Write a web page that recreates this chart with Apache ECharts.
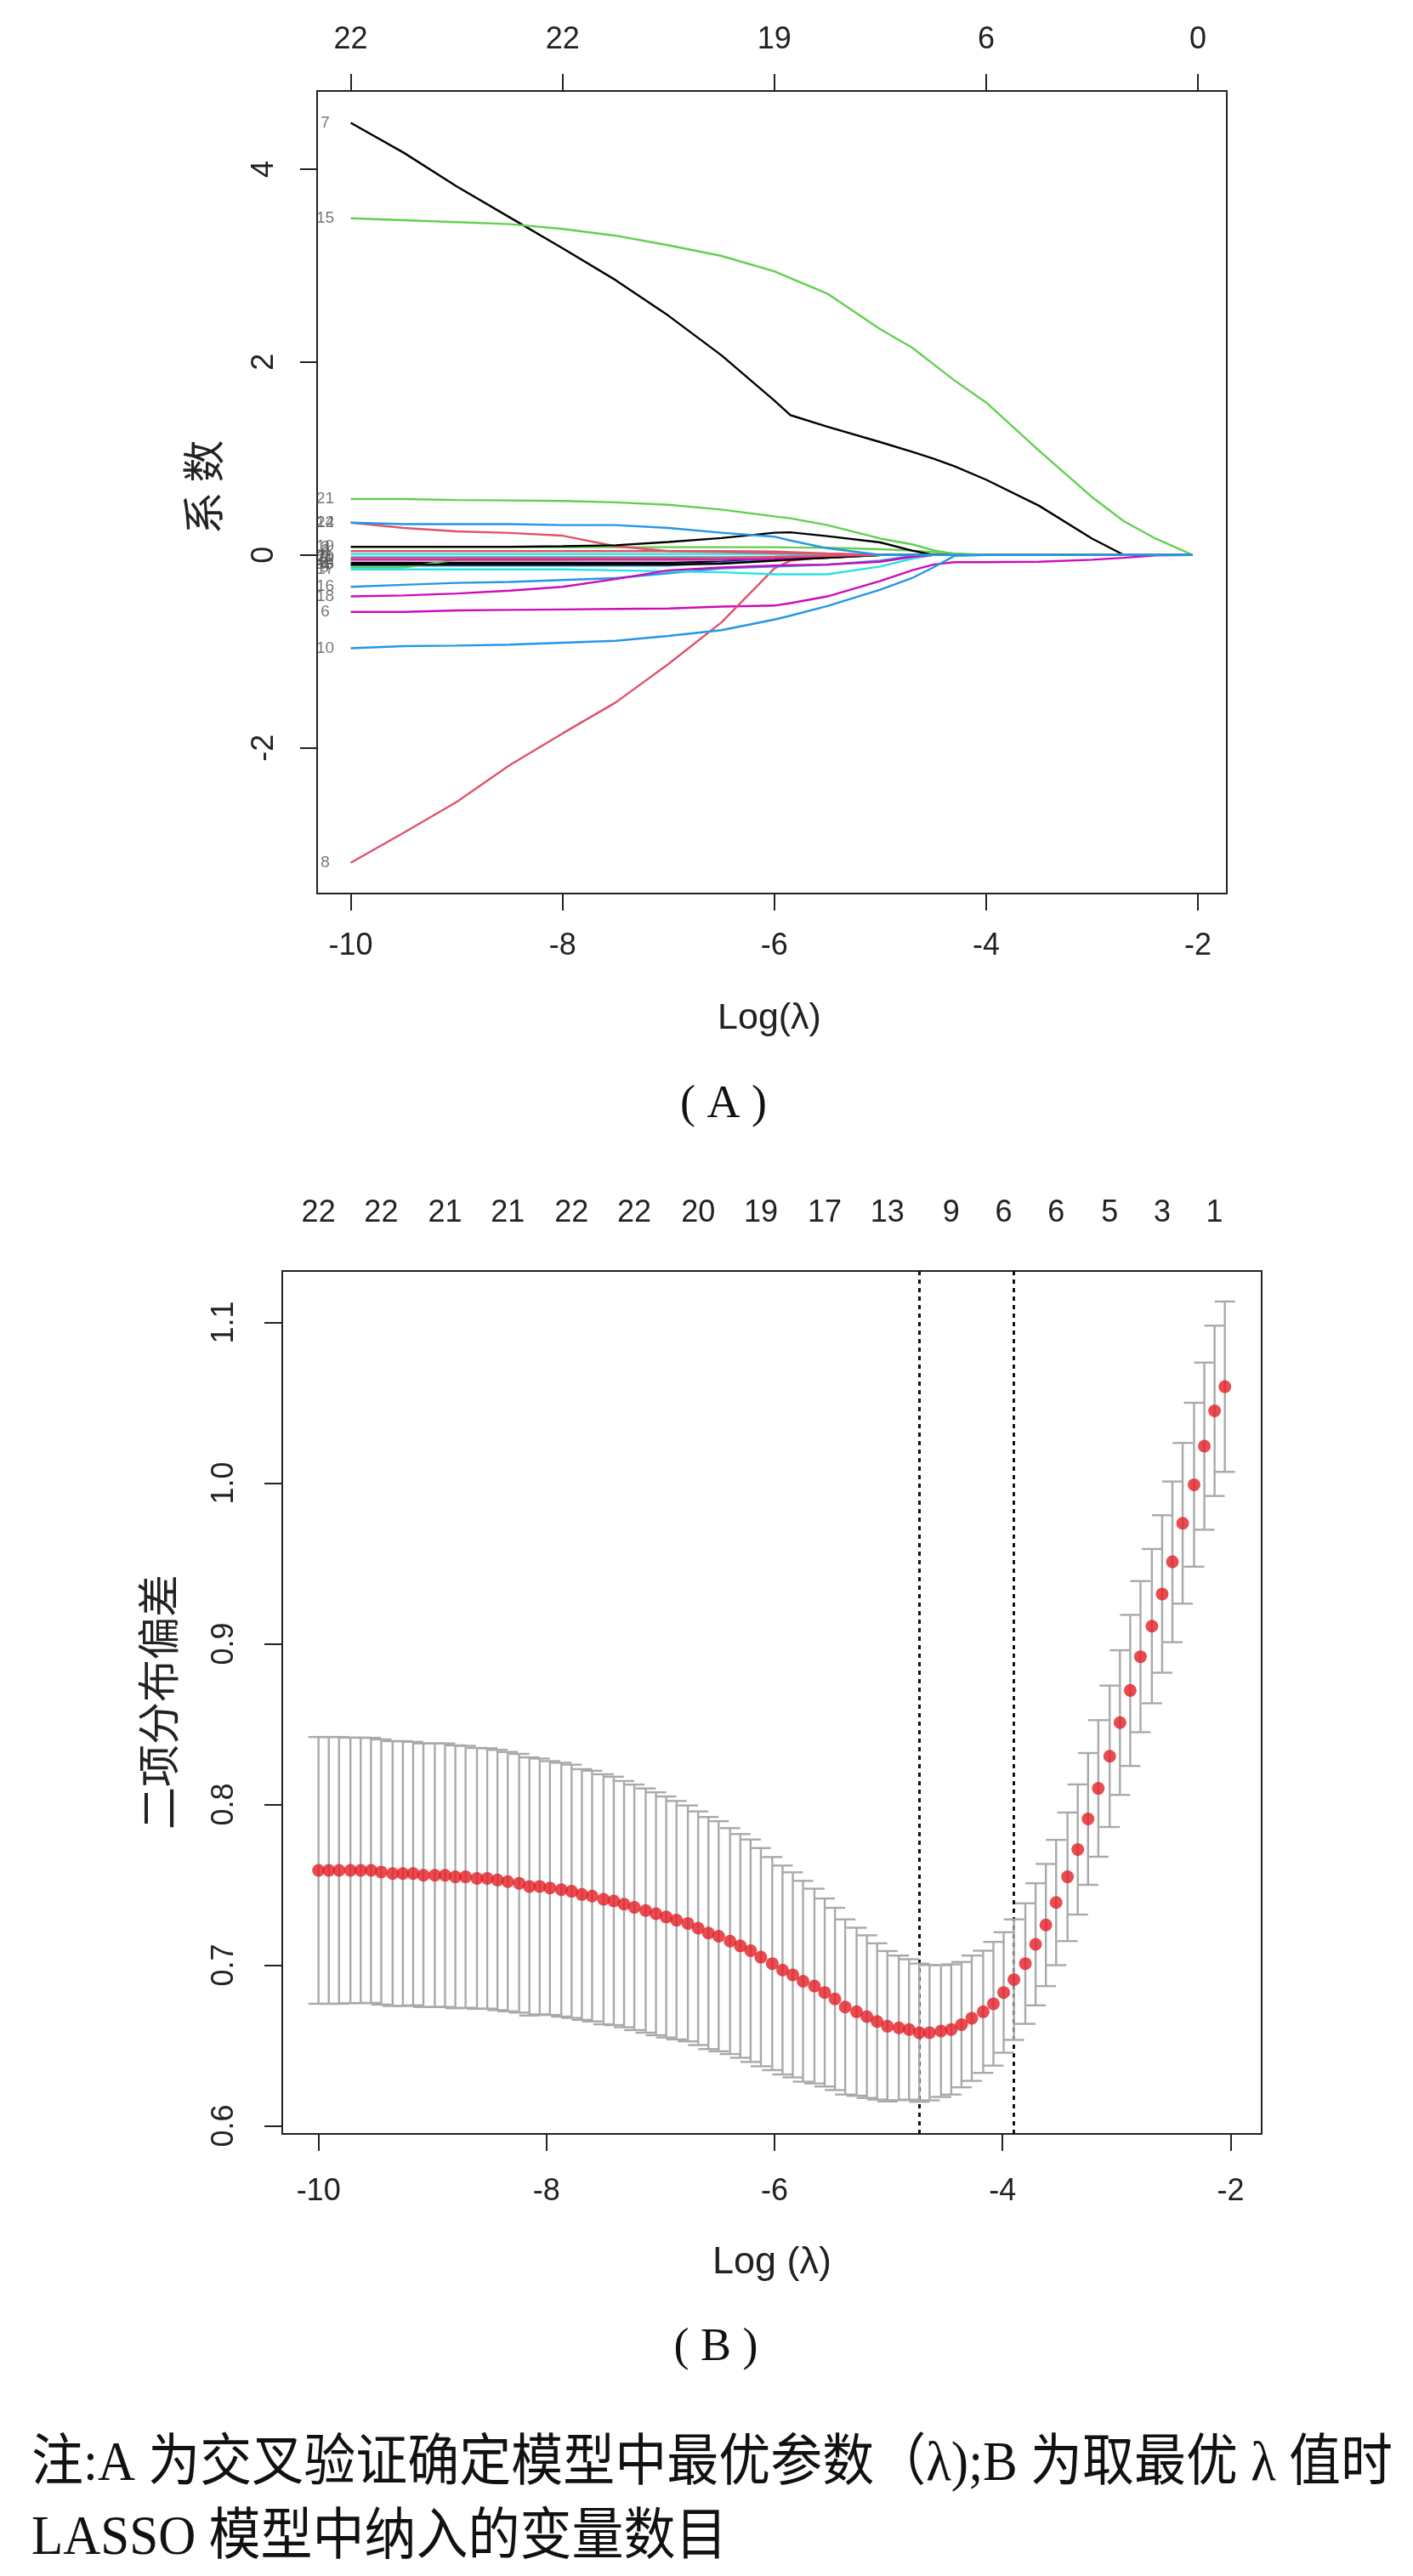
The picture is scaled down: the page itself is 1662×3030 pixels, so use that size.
<!DOCTYPE html>
<html>
<head>
<meta charset="utf-8">
<script src="https://cdn.jsdelivr.net/npm/echarts@6/dist/echarts.min.js"></script>
<style>
  html, body { margin: 0; padding: 0; background: #fff; }
  #chart { width: 1662px; height: 3030px; }
</style>
</head>
<body>
<div id="chart"></div>
<script>
// ---------- panel A: coefficient paths ----------
var pathX = [-10, -9.5, -9, -8.5, -8, -7.5, -7, -6.5, -6, -5.85, -5.5, -5, -4.7, -4.5, -4.3, -4, -3.5, -3, -2.7, -2.4, -2.05];

var v1  = [-0.08, -0.08, -0.08, -0.08, -0.08, -0.08, -0.08, -0.07, -0.05, -0.045, -0.03, 0, 0, 0, 0, 0, 0, 0, 0, 0, 0];
var v2  = [0.04, 0.04, 0.04, 0.04, 0.04, 0.04, 0.04, 0.04, 0.035, 0.03, 0.015, 0, 0, 0, 0, 0, 0, 0, 0, 0, 0];
var v3  = [0.08, 0.08, 0.08, 0.08, 0.08, 0.08, 0.08, 0.08, 0.08, 0.078, 0.075, 0.06, 0.045, 0.03, 0.015, 0, 0, 0, 0, 0, 0];
var v4  = [-0.11, -0.11, -0.11, -0.11, -0.11, -0.11, -0.11, -0.08, -0.05, -0.045, -0.02, 0, 0, 0, 0, 0, 0, 0, 0, 0, 0];
var v5  = [0.01, 0.01, 0.01, 0.01, 0.01, 0.01, 0.01, 0.01, 0.01, 0.008, 0, 0, 0, 0, 0, 0, 0, 0, 0, 0, 0];
var v6  = [-0.59, -0.59, -0.575, -0.57, -0.565, -0.56, -0.555, -0.535, -0.525, -0.5, -0.43, -0.27, -0.16, -0.1, -0.075, -0.075, -0.07, -0.05, -0.03, -0.005, 0];
var v7  = [4.48, 4.17, 3.82, 3.5, 3.18, 2.85, 2.48, 2.07, 1.6, 1.45, 1.33, 1.17, 1.07, 1.0, 0.92, 0.78, 0.51, 0.17, 0, 0, 0];
var v8  = [-3.19, -2.88, -2.56, -2.18, -1.85, -1.53, -1.13, -0.7, -0.14, -0.06, -0.02, 0, 0, 0, 0, 0, 0, 0, 0, 0, 0];
var v9  = [-0.13, -0.13, -0.05, -0.05, -0.05, -0.04, -0.04, -0.03, -0.02, -0.02, -0.01, 0, 0, 0, 0, 0, 0, 0, 0, 0, 0];
var v10 = [-0.967, -0.945, -0.94, -0.93, -0.91, -0.89, -0.84, -0.78, -0.67, -0.63, -0.53, -0.36, -0.24, -0.13, -0.01, 0, 0, 0, 0, 0, 0];
var v11 = [-0.02, -0.02, -0.02, -0.02, -0.02, -0.02, -0.02, -0.02, -0.02, -0.018, -0.01, 0, 0, 0, 0, 0, 0, 0, 0, 0, 0];
var v12 = [-0.05, -0.05, -0.05, -0.05, -0.05, -0.05, -0.05, -0.05, -0.04, -0.035, -0.02, 0, 0, 0, 0, 0, 0, 0, 0, 0, 0];
var v13 = [-0.1, -0.1, -0.1, -0.1, -0.1, -0.1, -0.1, -0.09, -0.06, -0.05, -0.03, 0, 0, 0, 0, 0, 0, 0, 0, 0, 0];
var v14 = [0.335, 0.28, 0.245, 0.228, 0.2, 0.09, 0.04, 0.03, 0.02, 0.02, 0.01, 0, 0, 0, 0, 0, 0, 0, 0, 0, 0];
var v15 = [3.49, 3.47, 3.45, 3.43, 3.38, 3.31, 3.21, 3.1, 2.94, 2.87, 2.71, 2.34, 2.15, 1.98, 1.81, 1.58, 1.08, 0.6, 0.35, 0.17, 0];
var v16 = [-0.33, -0.31, -0.29, -0.28, -0.26, -0.24, -0.19, -0.14, -0.12, -0.115, -0.1, -0.06, -0.01, 0, 0, 0, 0, 0, 0, 0, 0];
var v17 = [-0.15, -0.15, -0.15, -0.15, -0.15, -0.16, -0.17, -0.18, -0.2, -0.2, -0.2, -0.12, -0.04, 0, 0, 0, 0, 0, 0, 0, 0];
var v18 = [-0.43, -0.42, -0.4, -0.37, -0.33, -0.25, -0.16, -0.13, -0.11, -0.105, -0.1, -0.07, -0.02, 0, 0, 0, 0, 0, 0, 0, 0];
var v19 = [0.085, 0.085, 0.085, 0.085, 0.09, 0.1, 0.135, 0.175, 0.23, 0.235, 0.195, 0.13, 0.045, 0, 0, 0, 0, 0, 0, 0, 0];
var v20 = [-0.03, -0.03, -0.03, -0.03, -0.03, -0.03, -0.03, -0.03, -0.02, -0.015, -0.01, 0, 0, 0, 0, 0, 0, 0, 0, 0, 0];
var v21 = [0.58, 0.58, 0.57, 0.565, 0.56, 0.545, 0.52, 0.47, 0.4, 0.38, 0.31, 0.17, 0.11, 0.05, 0.01, 0, 0, 0, 0, 0, 0];
var v22 = [0.335, 0.32, 0.32, 0.32, 0.31, 0.31, 0.28, 0.23, 0.19, 0.15, 0.07, 0, 0, 0, 0, 0, 0, 0, 0, 0, 0];

var paths = [v1, v2, v3, v4, v5, v6, v7, v8, v9, v10, v11, v12, v13, v14, v15, v16, v17, v18, v19, v20, v21, v22];

var ticksA = [-10, -8, -6, -4, -2];
var dfA = ['22', '22', '19', '6', '0'];
var yTicksA = [-2, 0, 2, 4];

// ---------- panel B: cross-validation curve ----------
var logLambda = [
  -10.00, -9.91, -9.82, -9.72, -9.63, -9.54, -9.45, -9.35, -9.26, -9.17,
  -9.08, -8.98, -8.89, -8.80, -8.71, -8.61, -8.52, -8.43, -8.34, -8.24,
  -8.15, -8.06, -7.97, -7.87, -7.78, -7.69, -7.60, -7.50, -7.41, -7.32,
  -7.23, -7.13, -7.04, -6.95, -6.86, -6.76, -6.67, -6.58, -6.49, -6.39,
  -6.30, -6.21, -6.12, -6.02, -5.93, -5.84, -5.75, -5.65, -5.56, -5.47,
  -5.38, -5.28, -5.19, -5.10, -5.01, -4.91, -4.82, -4.73, -4.64, -4.54,
  -4.45, -4.36, -4.27, -4.17, -4.08, -3.99, -3.90, -3.80, -3.71, -3.62,
  -3.53, -3.43, -3.34, -3.25, -3.16, -3.06, -2.97, -2.88, -2.79, -2.69,
  -2.60, -2.51, -2.42, -2.32, -2.23, -2.14, -2.05
];
var cvm = [
  0.759, 0.759, 0.759, 0.759, 0.759, 0.759, 0.758, 0.757, 0.757, 0.757,
  0.756, 0.756, 0.756, 0.755, 0.755, 0.754, 0.754, 0.753, 0.752, 0.751,
  0.749, 0.749, 0.748, 0.747, 0.746, 0.744, 0.743, 0.741, 0.740, 0.738,
  0.736, 0.734, 0.732, 0.730, 0.728, 0.726, 0.723, 0.720, 0.718, 0.715,
  0.712, 0.709, 0.705, 0.701, 0.697, 0.694, 0.690, 0.687, 0.683, 0.679,
  0.674, 0.671, 0.668, 0.665, 0.662, 0.661, 0.660, 0.658, 0.658, 0.659,
  0.660, 0.663, 0.667, 0.671, 0.676, 0.683, 0.691, 0.701, 0.713, 0.725,
  0.739, 0.755, 0.772, 0.791, 0.810, 0.830, 0.851, 0.871, 0.892, 0.911,
  0.931, 0.951, 0.975, 0.999, 1.023, 1.045, 1.060
];
var cvsd = [
  0.083, 0.083, 0.083, 0.0826, 0.0826, 0.0825, 0.0825, 0.0824, 0.0824, 0.082,
  0.082, 0.082, 0.082, 0.0818, 0.0815, 0.0812, 0.081, 0.081, 0.0807, 0.0805,
  0.0803, 0.0796, 0.079, 0.079, 0.0788, 0.078, 0.078, 0.0778, 0.0773, 0.0766,
  0.0764, 0.076, 0.0756, 0.075, 0.0742, 0.0734, 0.0727, 0.0722, 0.0716, 0.0703,
  0.0696, 0.0692, 0.0679, 0.0663, 0.065, 0.0638, 0.0625, 0.0606, 0.0585, 0.0567,
  0.0545, 0.0523, 0.0506, 0.0486, 0.0468, 0.045, 0.0437, 0.043, 0.0421, 0.041,
  0.0405, 0.039, 0.039, 0.038, 0.0385, 0.0375, 0.0375, 0.0375, 0.038, 0.038,
  0.039, 0.040, 0.0405, 0.041, 0.0425, 0.044, 0.045, 0.047, 0.047, 0.048,
  0.049, 0.050, 0.050, 0.051, 0.052, 0.053, 0.053
];
var nzIndex = [0, 6, 12, 18, 24, 30, 36, 42, 48, 54, 60, 65, 70, 75, 80, 85];
var nzLabel = ['22', '22', '21', '21', '22', '22', '20', '19', '17', '13', '9', '6', '6', '5', '3', '1'];
var minIndex = 57, seIndex = 66;
var ticksB = [-10, -8, -6, -4, -2];
var yTicksB = [0.6, 0.7, 0.8, 0.9, 1.0, 1.1];

// R default palette, cycled 1:6 like matplot
var rPal = ['#000000', '#DF536B', '#61D04F', '#2297E6', '#28E2E5', '#CD0BBC'];

var chart = echarts.init(document.getElementById('chart'));
var axisFont = 'Liberation Sans, Arial, sans-serif';
var ink = '#222';

var nzTopVals = nzIndex.map(function (i) { return logLambda[i]; });

function xAxisBase(grid, ticks, pos) {
  return {
    type: 'value', gridIndex: grid, position: pos,
    min: -10.318, max: -1.727,
    axisLine: { show: false, onZero: false }, splitLine: { show: false },
    axisTick: { customValues: ticks, length: 20, lineStyle: { color: ink, width: 2 } },
    axisLabel: { customValues: ticks, fontSize: 36, fontFamily: axisFont, color: ink, margin: 44 }
  };
}

var series = [];
paths.forEach(function (v, k) {
  series.push({
    type: 'line', xAxisIndex: 0, yAxisIndex: 0,
    data: pathX.map(function (x, i) { return [x, v[i]]; }),
    showSymbol: false, symbol: 'none', silent: true,
    lineStyle: { color: rPal[k % 6], width: 2.4 },
    z: 2 + k
  });
});
// variable numbers at the left end of each path
series.push({
  type: 'scatter', xAxisIndex: 0, yAxisIndex: 0, symbolSize: 0, silent: true, z: 40,
  data: paths.map(function (v, k) { return { value: [pathX[0], v[0]], name: String(k + 1) }; }),
  label: {
    show: true, position: [-30, 0], align: 'center', verticalAlign: 'middle',
    formatter: '{b}', fontSize: 19, fontFamily: axisFont, color: '#555'
  }
});

// error bars
series.push({
  type: 'custom', xAxisIndex: 2, yAxisIndex: 1, silent: true, z: 5,
  data: logLambda.map(function (x, i) { return [x, cvm[i] - cvsd[i], cvm[i] + cvsd[i]]; }),
  encode: { x: 0, y: [1, 2] },
  renderItem: function (params, api) {
    var x = api.value(0);
    var lo = api.coord([x, api.value(1)]);
    var hi = api.coord([x, api.value(2)]);
    var w = 12;
    var st = { stroke: '#a9a9a9', lineWidth: 2.4 };
    return {
      type: 'group', children: [
        { type: 'line', shape: { x1: lo[0], y1: lo[1], x2: hi[0], y2: hi[1] }, style: st },
        { type: 'line', shape: { x1: hi[0] - w, y1: hi[1], x2: hi[0] + w, y2: hi[1] }, style: st },
        { type: 'line', shape: { x1: lo[0] - w, y1: lo[1], x2: lo[0] + w, y2: lo[1] }, style: st }
      ]
    };
  }
});
// mean deviance points + lambda.min / lambda.1se lines
series.push({
  type: 'scatter', xAxisIndex: 2, yAxisIndex: 1, silent: true, z: 10,
  data: logLambda.map(function (x, i) { return [x, cvm[i]]; }),
  symbol: 'circle', symbolSize: 15,
  itemStyle: { color: '#e31e24' },
  markLine: {
    silent: true, symbol: 'none', label: { show: false },
    lineStyle: { type: [5, 5], color: '#111', width: 3 },
    data: [{ xAxis: logLambda[minIndex] }, { xAxis: logLambda[seIndex] }]
  }
});

var serifCJK = '"Liberation Serif", "Noto Sans CJK SC"';

var option = {
  animation: false,
  backgroundColor: '#fff',
  grid: [
    { left: 373, top: 107, width: 1070, height: 944, show: true, borderColor: ink, borderWidth: 2, backgroundColor: 'transparent' },
    { left: 332, top: 1495, width: 1152, height: 1015, show: true, borderColor: ink, borderWidth: 2, backgroundColor: 'transparent' }
  ],
  xAxis: [
    xAxisBase(0, ticksA, 'bottom'),
    (function () {
      var a = xAxisBase(0, ticksA, 'top');
      a.axisLabel.margin = 42;
      a.axisLabel.formatter = function (v) { return dfA[ticksA.indexOf(v)]; };
      return a;
    })(),
    (function () {
      var a = xAxisBase(1, ticksB, 'bottom');
      a.axisLabel.margin = 50;
      return a;
    })(),
    (function () {
      var a = xAxisBase(1, nzTopVals, 'top');
      a.axisTick = { show: false };
      a.axisLabel.margin = 50;
      a.axisLabel.formatter = function (v) { return nzLabel[nzTopVals.indexOf(v)]; };
      return a;
    })()
  ],
  yAxis: [
    {
      type: 'value', gridIndex: 0, min: -3.51, max: 4.81,
      axisLine: { show: false, onZero: false }, splitLine: { show: false },
      axisTick: { customValues: yTicksA, length: 20, lineStyle: { color: ink, width: 2 } },
      axisLabel: { customValues: yTicksA, rotate: 90, fontSize: 36, fontFamily: axisFont, color: ink, margin: 44 }
    },
    {
      type: 'value', gridIndex: 1, min: 0.595, max: 1.132,
      axisLine: { show: false, onZero: false }, splitLine: { show: false },
      axisTick: { customValues: yTicksB, length: 21, lineStyle: { color: ink, width: 2 } },
      axisLabel: {
        customValues: yTicksB, rotate: 90, fontSize: 36, fontFamily: axisFont, color: ink, margin: 50,
        formatter: function (v) { return v.toFixed(1); }
      }
    }
  ],
  graphic: [
    { type: 'text', x: 239, y: 573, rotation: Math.PI / 2,
      style: { text: '系 数', font: '50px "Noto Sans CJK SC"', fill: ink, textAlign: 'center', textVerticalAlign: 'middle' } },
    { type: 'text', x: 905, y: 1198,
      style: { text: 'Log(λ)', font: '43px "Liberation Sans"', fill: ink, textAlign: 'center', textVerticalAlign: 'middle' } },
    { type: 'text', x: 851, y: 1300,
      style: { text: '( A )', font: '54px ' + serifCJK, fill: '#111', textAlign: 'center', textVerticalAlign: 'middle' } },
    { type: 'text', x: 186, y: 2002, rotation: Math.PI / 2,
      style: { text: '二项分布偏差', font: '50px "Noto Sans CJK SC"', fill: ink, textAlign: 'center', textVerticalAlign: 'middle' } },
    { type: 'text', x: 908, y: 2662,
      style: { text: 'Log (λ)', font: '45px "Liberation Sans"', fill: ink, textAlign: 'center', textVerticalAlign: 'middle' } },
    { type: 'text', x: 842, y: 2762,
      style: { text: '( B )', font: '54px ' + serifCJK, fill: '#111', textAlign: 'center', textVerticalAlign: 'middle' } },
    { type: 'text', x: 37, y: 2900, scaleY: 1.08,
      style: { text: '注:A 为交叉验证确定模型中最优参数（λ);B 为取最优 λ 值时', font: '61px ' + serifCJK, fill: '#111', textAlign: 'left', textVerticalAlign: 'middle' } },
    { type: 'text', x: 37, y: 2987, scaleY: 1.08,
      style: { text: 'LASSO 模型中纳入的变量数目', font: '61px ' + serifCJK, fill: '#111', textAlign: 'left', textVerticalAlign: 'middle' } }
  ],
  series: series
};

chart.setOption(option);
</script>
</body>
</html>
